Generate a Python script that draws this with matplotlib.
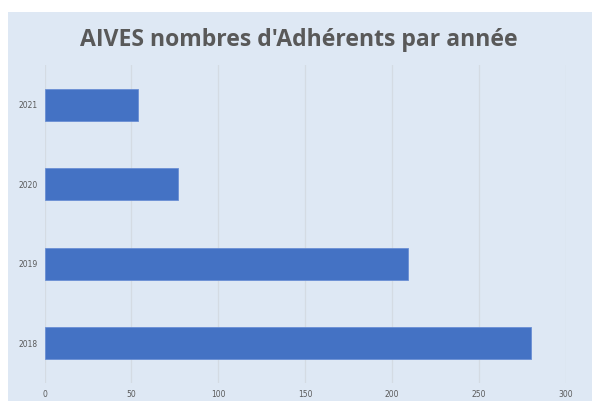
import matplotlib.pyplot as plt
from matplotlib.patches import Rectangle

years = ['2018', '2019', '2020', '2021']
adherents = [280, 209, 77, 54]
xticks = [0, 50, 100, 150, 200, 250, 300]

bg = '#DEE8F4'
fig = plt.figure(figsize=(5.92, 4.01), dpi=100, facecolor='white')
fig.patches.append(Rectangle((8 / 592, 0), 1, 1 - 12 / 401, transform=fig.transFigure,
                             facecolor=bg, edgecolor='none', zorder=-10))

ax = fig.add_axes([44.5 / 592, 1 - 382.7 / 401, (566 - 44.5) / 592, (382.7 - 65.3) / 401])
ax.set_facecolor(bg)
ax.barh(range(len(years)), adherents, height=0.4, color='#4472C4',
        edgecolor='#6A8FD4', linewidth=0.6, zorder=3)
ax.set_yticks(range(len(years)))
ax.set_yticklabels(years)
ax.set_ylim(-0.5, 3.5)
ax.set_xlim(0, 300)
ax.set_xticks(xticks)
ax.grid(axis='x', color='#D4DBE3', linewidth=0.9, zorder=0)
for s in ax.spines.values():
    s.set_visible(False)
ax.tick_params(length=0, labelsize=5.5, labelcolor='#595959')
ax.tick_params(axis='x', pad=5)
ax.tick_params(axis='y', pad=5)

fig.text(298.5 / 592, 1 - 40.5 / 401, "AIVES nombres d'Adhérents par année",
         ha='center', va='center', fontsize=16.6, fontweight='bold',
         color='#595959', family='Open Sans')

plt.savefig('out.png', dpi=100, facecolor='white')
